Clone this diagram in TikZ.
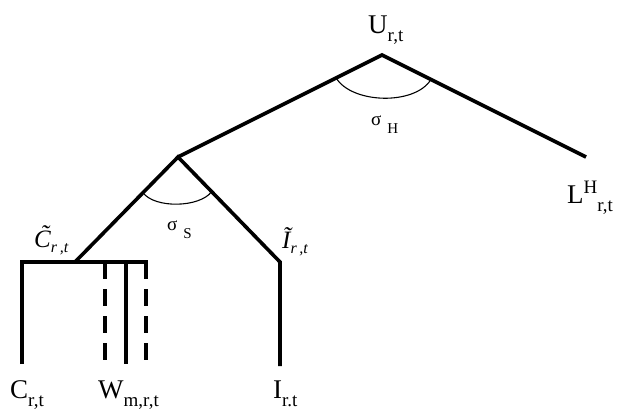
\documentclass[tikz,border=0pt]{standalone}
\usepackage{fontspec}
\setmainfont{Liberation Serif}
\usetikzlibrary{calc}

\newcommand{\lowsub}[1]{\raisebox{-8pt}{\fontsize{19}{19}\selectfont #1}}
\newcommand{\highsup}[1]{\raisebox{10pt}{\fontsize{19}{19}\selectfont #1}}
\newcommand{\tsub}[1]{\raisebox{-5pt}{\fontsize{16}{16}\selectfont #1}}
\newcommand{\elsub}[1]{\hspace{6pt}\raisebox{-8pt}{\fontsize{15}{15}\selectfont #1}}

\begin{document}
\begin{tikzpicture}[x=1pt, y=-1pt,
    branch/.style={line width=3.6pt},
    dashbranch/.style={line width=3.6pt, dash pattern=on 17pt off 10pt},
    elast/.style={line width=1.1pt},
    lbl/.style={inner sep=0pt, anchor=base west, font=\fontsize{27}{30}\selectfont},
    tlbl/.style={inner sep=0pt, anchor=base west, font=\fontsize{25}{27}\selectfont\itshape},
    slbl/.style={inner sep=0pt, anchor=base west, font=\fontsize{19}{21}\selectfont}
]
    \useasboundingbox (0,0) rectangle (617,410);
    % nests of the tree
    \coordinate (U) at (382,55);
    \coordinate (S) at (178,157);
    \coordinate (LH) at (586,157);
    \coordinate (Ct) at (75,262);
    \coordinate (It) at (280,262);
    \coordinate (barL) at (22,262);
    \coordinate (barR) at (148,262);
    \coordinate (Wa) at (105,262);
    \coordinate (Wb) at (126,262);
    \coordinate (Wc) at (146,262);
    % leaves
    \coordinate (Cb) at (22,364);
    \coordinate (Wab) at (105,363);
    \coordinate (Wbb) at (126,364);
    \coordinate (Wcb) at (146,363);
    \coordinate (Ib) at (280,366);

    \draw[branch] (S) -- (U) -- (LH);
    \draw[branch] (Ct) -- (S) -- (It) -- (Ib);
    \draw[branch] (Cb) -- (barL) -- (barR);
    \draw[branch] (Wb) -- (Wbb);
    \draw[dashbranch] (Wa) -- (Wab);
    \draw[dashbranch] (Wc) -- (Wcb);

    % elasticities
    \coordinate (hL) at ($(U)!0.225!(S)$);
    \coordinate (hR) at ($(U)!0.24!(LH)$);
    \coordinate (sL) at ($(S)!0.34!(Ct)$);
    \coordinate (sR) at ($(S)!0.33!(It)$);
    \draw[elast] (hL) .. controls ($(hL)+(16,26)$) and ($(hR)+(-16,26)$) .. (hR);
    \draw[elast] (sL) .. controls ($(sL)+(12,16)$) and ($(sR)+(-12,16)$) .. (sR);

    % labels
    \node[lbl] (u-lbl) at (368,33) {U\lowsub{r,t}};
    \node[lbl] (l-lbl) at (567,203) {L\highsup{H}\lowsub{r,t}};
    \node[lbl] (c-lbl) at (10,398) {C\lowsub{r,t}};
    \node[lbl] (w-lbl) at (98,398) {W\lowsub{m,r,t}};
    \node[lbl] (i-lbl) at (273,398) {I\lowsub{r.t}};
    \node[tlbl] (ct-lbl) at (34,247) {\~{C}\tsub{r\,,t}};
    \node[tlbl] (it-lbl) at (282,248) {\~{I}\tsub{r\,,t}};
    \node[slbl] (sh-lbl) at (371,125) {σ\elsub{H}};
    \node[slbl] (ss-lbl) at (167,230) {σ\elsub{S}};
\end{tikzpicture}
\end{document}
